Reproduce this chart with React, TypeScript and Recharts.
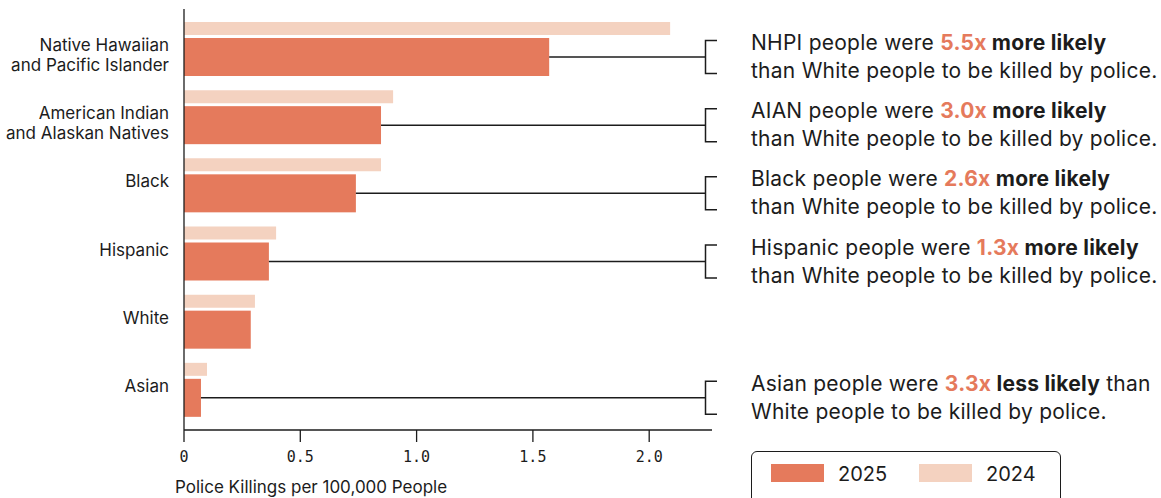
import { BarChart, Bar, XAxis, YAxis } from "recharts";

const categories = [
  "Native Hawaiian\nand Pacific Islander",
  "American Indian\nand Alaskan Natives",
  "Black",
  "Hispanic",
  "White",
  "Asian",
];
const rate2025 = [1.57, 0.847, 0.739, 0.365, 0.287, 0.073];
const rate2024 = [2.09, 0.899, 0.847, 0.396, 0.305, 0.099];

// annotation pieces, one per category ("" = no note)
const shortNames = ["NHPI", "AIAN", "Black", "Hispanic", "", "Asian"];
const ratioLabels = ["5.5x", "3.0x", "2.6x", "1.3x", "", "3.3x"];
const likelihood = ["more", "more", "more", "more", "", "less"];

const xTicks = [0, 0.5, 1, 1.5, 2];
const xTickLabels = ["0", "0.5", "1.0", "1.5", "2.0"];

const DARK = "#E57A5C";
const LIGHT = "#F4D2C0";
const INK = "#1c1c1c";
const FONT = "Inter, 'Noto Sans', sans-serif";

const data = categories.map((c, i) => ({
  category: c,
  y2025: rate2025[i],
  y2024: rate2024[i],
}));

function CategoryTick(props: any) {
  const { x, y, payload } = props;
  const lines = String(payload.value).split("\n");
  return (
    <text textAnchor="end" fontSize={17} fill={INK} fontFamily={FONT}>
      {lines.map((l, i) => (
        <tspan key={i} x={x} y={y + 2 + i * 20}>
          {l}
        </tspan>
      ))}
    </text>
  );
}

function ValueTick(props: any) {
  const { x, y, payload, index } = props;
  return (
    <text
      x={x}
      y={y + 18}
      textAnchor="middle"
      fontSize={15}
      fill={INK}
      fontFamily="'DejaVu Sans Mono', monospace"
    >
      {xTickLabels[index] ?? payload.value}
    </text>
  );
}

// 2025 bar plus the connector, bracket and note to its right
function AnnotatedBar(props: any) {
  const { x, y, width, height, fill, index } = props;
  const name = shortNames[index];
  const mid = y + height / 2;
  const bx = 705.5;
  const tx = 751;
  const noteStyle = { letterSpacing: 0.25 };
  return (
    <g>
      <rect x={x} y={y} width={width} height={height} fill={fill} />
      {name && (
        <g>
          <line x1={x + width} y1={mid} x2={bx} y2={mid} stroke={INK} strokeWidth={1.5} />
          <path
            d={`M${bx + 11.5},${mid - 16.5} H${bx} V${mid + 16.5} H${bx + 11.5}`}
            fill="none"
            stroke={INK}
            strokeWidth={1.5}
          />
          <text x={tx} y={mid - 7} fontSize={21} fill={INK} fontFamily={FONT} style={noteStyle}>
            <tspan>{name} people were </tspan>
            <tspan fill={DARK} fontWeight={700}>
              {ratioLabels[index]}
            </tspan>
            <tspan fontWeight={700}> {likelihood[index]} likely</tspan>
            {likelihood[index] === "less" ? <tspan> than</tspan> : null}
          </text>
          <text x={tx} y={mid + 21} fontSize={21} fill={INK} fontFamily={FONT} style={noteStyle}>
            {likelihood[index] === "less"
              ? "White people to be killed by police."
              : "than White people to be killed by police."}
          </text>
        </g>
      )}
    </g>
  );
}

export default function App() {
  return (
    <div
      style={{
        position: "absolute",
        left: 0,
        top: 0,
        width: 1161,
        height: 498,
        background: "#fff",
        overflow: "hidden",
        fontFamily: FONT,
      }}
    >
      <BarChart
        width={1161}
        height={498}
        data={data}
        layout="vertical"
        margin={{ top: 9, right: 449, bottom: 38, left: 0 }}
        barGap={3}
      >
        <XAxis
          type="number"
          domain={[0, 2.27]}
          ticks={xTicks}
          height={30}
          axisLine={{ stroke: INK, strokeWidth: 1.3 }}
          tickLine={{ stroke: INK, strokeWidth: 1.3 }}
          tickSize={12}
          tick={<ValueTick />}
        />
        <YAxis
          type="category"
          dataKey="category"
          width={184}
          axisLine={{ stroke: INK, strokeWidth: 1.3 }}
          tickLine={false}
          tickSize={0}
          tickMargin={15}
          padding={{ top: 6, bottom: 6 }}
          tick={<CategoryTick />}
          interval={0}
        />
        <Bar dataKey="y2024" fill={LIGHT} barSize={13} isAnimationActive={false} />
        <Bar
          dataKey="y2025"
          fill={DARK}
          barSize={38}
          isAnimationActive={false}
          shape={<AnnotatedBar />}
        />
      </BarChart>

      <div
        style={{
          position: "absolute",
          left: 175,
          top: 477,
          fontSize: 17,
          lineHeight: "20px",
          color: INK,
        }}
      >
        Police Killings per 100,000 People
      </div>

      <div
        style={{
          position: "absolute",
          left: 751,
          top: 451,
          width: 308,
          height: 54,
          border: `1px solid ${INK}`,
          borderRadius: 6,
        }}
      >
        <div style={{ position: "absolute", left: 19, top: 12, width: 53, height: 18, background: DARK }} />
        <div style={{ position: "absolute", left: 86, top: 10, fontSize: 20, lineHeight: "24px", color: INK }}>
          2025
        </div>
        <div style={{ position: "absolute", left: 167, top: 12, width: 53, height: 18, background: LIGHT }} />
        <div style={{ position: "absolute", left: 234, top: 10, fontSize: 20, lineHeight: "24px", color: INK }}>
          2024
        </div>
      </div>
    </div>
  );
}
